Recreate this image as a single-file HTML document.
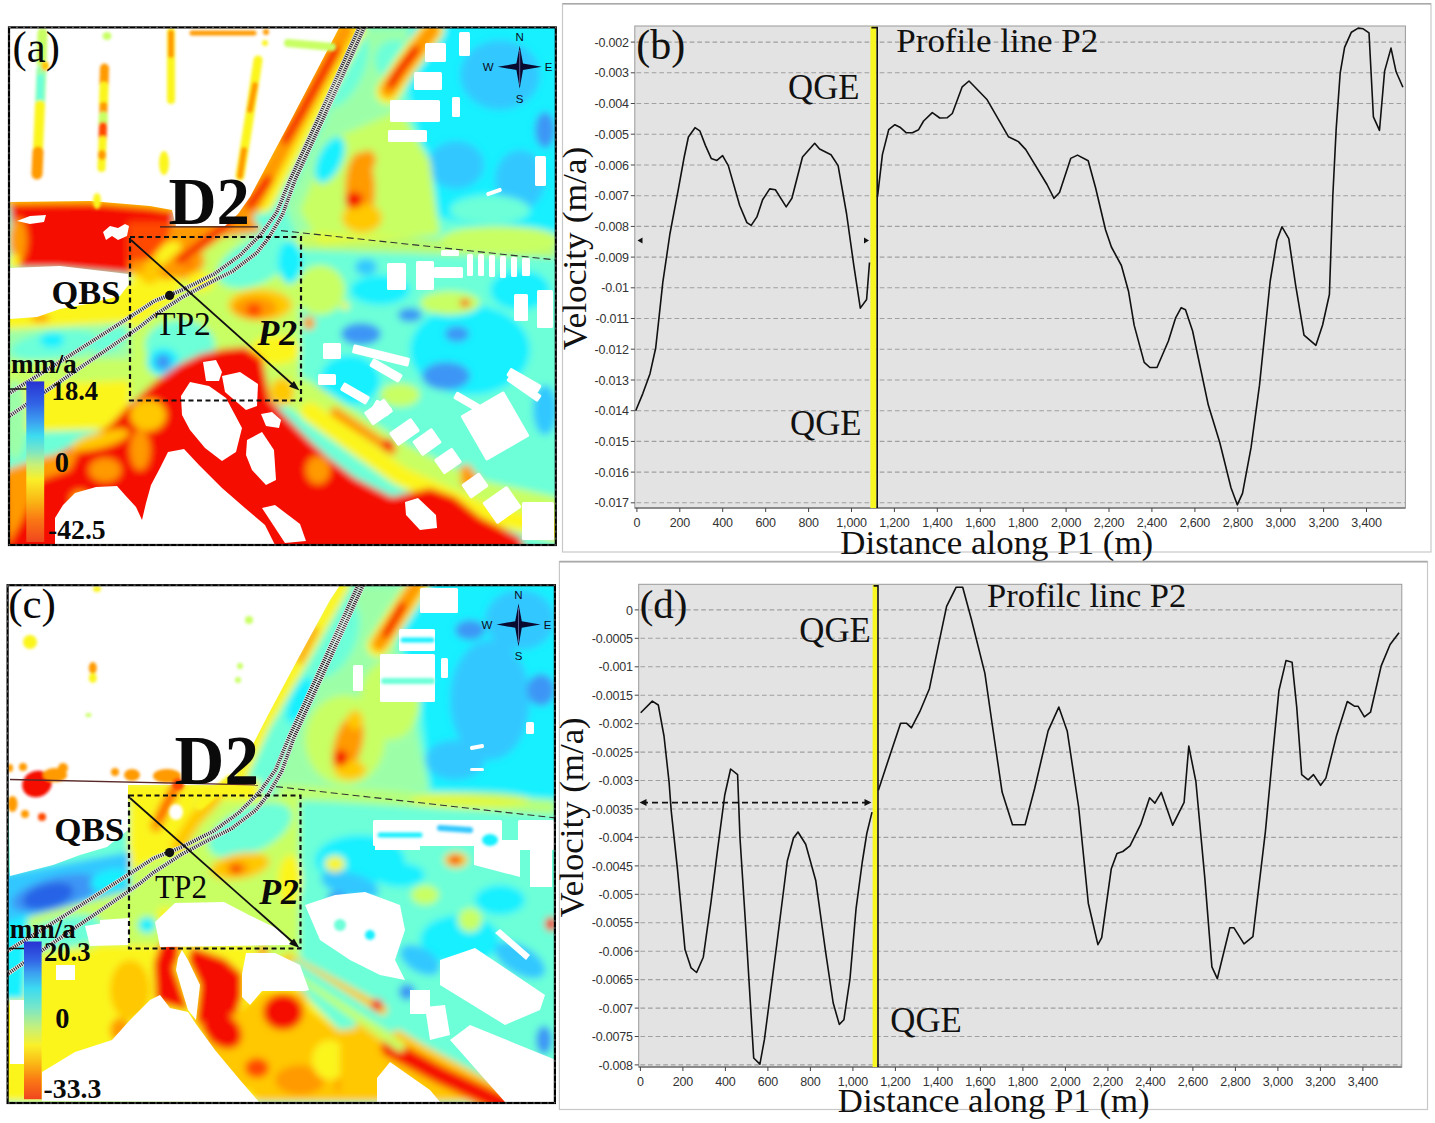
<!DOCTYPE html>
<html><head><meta charset="utf-8"><style>
html,body{margin:0;padding:0;background:#fff;width:1435px;height:1123px;overflow:hidden}
svg{display:block}
.tk{font-family:"Liberation Sans",sans-serif;font-size:12.5px;fill:#333;letter-spacing:-0.2px}
.serif{font-family:"Liberation Serif",serif;fill:#111}
.sb{font-family:"Liberation Serif",serif;font-weight:bold;fill:#0a0a0a}
.sr{font-family:"Liberation Serif",serif;fill:#0a0a0a}
.sbi{font-family:"Liberation Serif",serif;font-weight:bold;font-style:italic;fill:#0a0a0a}
.cmp{font-family:"Liberation Sans",sans-serif;fill:#0a0a20}
</style></head><body>
<svg width="1435" height="1123" viewBox="0 0 1435 1123">
<rect width="1435" height="1123" fill="#fff"/>
<clipPath id="clipa"><rect x="9.0" y="27.4" width="546.8" height="517.6"/></clipPath>
<filter id="bla" x="-5%" y="-5%" width="110%" height="110%"><feGaussianBlur stdDeviation="3.5"/></filter>
<filter id="bwa"><feGaussianBlur stdDeviation="0.6"/></filter>
<filter id="bsa"><feGaussianBlur stdDeviation="1.6"/></filter>
<g clip-path="url(#clipa)">
<g filter="url(#bla)"><rect x="0" y="20" width="560" height="540" fill="#6cffd8"/>
<path d="M0,20 L345,20 L250,215 L170,215 L0,205 Z" fill="#ffc800" opacity="1"/>
<path d="M415,20 L560,20 L560,235 L470,225 L430,215 L420,140 L400,60 Z" fill="#18f0ff" opacity="1"/>
<ellipse cx="456" cy="165" rx="28" ry="24" fill="#30c8ff" transform="rotate(0 456 165)" opacity="1"/>
<ellipse cx="500" cy="75" rx="40" ry="35" fill="#30c8ff" transform="rotate(0 500 75)" opacity="1"/>
<ellipse cx="545" cy="130" rx="10" ry="18" fill="#3c96f5" transform="rotate(0 545 130)" opacity="1"/>
<ellipse cx="520" cy="180" rx="25" ry="30" fill="#30c8ff" transform="rotate(0 520 180)" opacity="1"/>
<ellipse cx="490" cy="210" rx="40" ry="15" fill="#6cffd8" transform="rotate(0 490 210)" opacity="1"/>
<path d="M362,28 L410,28 L395,90 L420,150 L440,230 L300,245 L285,205 L330,110 Z" fill="#9cffa8" opacity="1"/>
<path d="M330,140 L400,110 L430,160 L440,235 L320,245 L300,210 Z" fill="#c8ff64" opacity="1"/>
<ellipse cx="345" cy="70" rx="18" ry="40" fill="#6cffd8" transform="rotate(25 345 70)" opacity="1"/>
<ellipse cx="330" cy="160" rx="12" ry="25" fill="#18f0ff" transform="rotate(25 330 160)" opacity="1"/>
<ellipse cx="395" cy="60" rx="20" ry="20" fill="#6cffd8" transform="rotate(0 395 60)" opacity="1"/>
<path d="M300,232 L556,245 L556,258 L300,250 Z" fill="#fbf51e" opacity="0.55"/>
<ellipse cx="500" cy="240" rx="60" ry="14" fill="#c8ff64" transform="rotate(0 500 240)" opacity="1"/>
<ellipse cx="360" cy="190" rx="15" ry="38" fill="#ff9a00" transform="rotate(0 360 190)" opacity="1"/>
<ellipse cx="362" cy="218" rx="20" ry="15" fill="#ffc800" transform="rotate(0 362 218)" opacity="1"/>
<ellipse cx="354" cy="200" rx="9" ry="8" fill="#f50a00" transform="rotate(0 354 200)" opacity="1"/>
<ellipse cx="368" cy="160" rx="8" ry="10" fill="#ff9a00" transform="rotate(0 368 160)" opacity="1"/>
<path d="M300,250 L556,258 L556,520 L300,420 Z" fill="#6cffd8" opacity="1"/>
<ellipse cx="470" cy="350" rx="60" ry="45" fill="#18f0ff" transform="rotate(0 470 350)" opacity="1"/>
<ellipse cx="380" cy="290" rx="30" ry="15" fill="#18f0ff" transform="rotate(0 380 290)" opacity="1"/>
<ellipse cx="520" cy="290" rx="30" ry="20" fill="#18f0ff" transform="rotate(0 520 290)" opacity="1"/>
<ellipse cx="350" cy="380" rx="30" ry="25" fill="#18f0ff" transform="rotate(0 350 380)" opacity="1"/>
<ellipse cx="366" cy="267" rx="11" ry="8" fill="#30c8ff" transform="rotate(0 366 267)" opacity="1"/>
<ellipse cx="361" cy="334" rx="20" ry="11" fill="#3c96f5" transform="rotate(0 361 334)" opacity="1"/>
<ellipse cx="410" cy="315" rx="12" ry="7" fill="#3c96f5" transform="rotate(0 410 315)" opacity="1"/>
<ellipse cx="457" cy="334" rx="12" ry="8" fill="#3c96f5" transform="rotate(0 457 334)" opacity="1"/>
<ellipse cx="446" cy="376" rx="24" ry="14" fill="#3c96f5" transform="rotate(0 446 376)" opacity="1"/>
<ellipse cx="320" cy="397" rx="7" ry="11" fill="#30c8ff" transform="rotate(0 320 397)" opacity="1"/>
<ellipse cx="450" cy="303" rx="30" ry="12" fill="#c8ff64" transform="rotate(0 450 303)" opacity="1"/>
<ellipse cx="320" cy="290" rx="25" ry="25" fill="#c8ff64" transform="rotate(0 320 290)" opacity="1"/>
<ellipse cx="345" cy="306" rx="4" ry="4" fill="#fbf51e" transform="rotate(0 345 306)" opacity="1"/>
<ellipse cx="465" cy="303" rx="5" ry="4" fill="#ff4a00" transform="rotate(0 465 303)" opacity="1"/>
<ellipse cx="309" cy="323" rx="6" ry="7" fill="#ff9a00" transform="rotate(0 309 323)" opacity="1"/>
<ellipse cx="400" cy="395" rx="20" ry="12" fill="#c8ff64" transform="rotate(0 400 395)" opacity="1"/>
<ellipse cx="520" cy="420" rx="30" ry="25" fill="#6cffd8" transform="rotate(0 520 420)" opacity="1"/>
<ellipse cx="545" cy="410" rx="12" ry="25" fill="#30c8ff" transform="rotate(0 545 410)" opacity="1"/>
<path d="M300,395 L400,460 L470,495 L560,515" fill="none" stroke="#c8ff64" stroke-width="34" stroke-linecap="round" stroke-linejoin="round" opacity="1"/>
<path d="M310,412 L400,476 L480,512 L560,532" fill="none" stroke="#fbf51e" stroke-width="20" stroke-linecap="round" stroke-linejoin="round" opacity="1"/>
<path d="M335,412 L362,430 L392,450" fill="none" stroke="#ff9a00" stroke-width="10" stroke-linecap="round" stroke-linejoin="round" opacity="1"/>
<ellipse cx="388" cy="445" rx="6" ry="6" fill="#f50a00" transform="rotate(0 388 445)" opacity="1"/>
<ellipse cx="466" cy="470" rx="7" ry="5" fill="#ff9a00" transform="rotate(0 466 470)" opacity="1"/>
<ellipse cx="470" cy="480" rx="10" ry="8" fill="#ff9a00" transform="rotate(0 470 480)" opacity="1"/>
<path d="M130,237 L300,237 L300,400 L130,400 Z" fill="#c8ff64" opacity="1"/>
<path d="M130,237 L200,237 L175,300 L130,330 Z" fill="#fbf51e" opacity="1"/>
<ellipse cx="255" cy="262" rx="40" ry="22" fill="#6cffd8" transform="rotate(-25 255 262)" opacity="1"/>
<ellipse cx="290" cy="262" rx="12" ry="22" fill="#18f0ff" transform="rotate(0 290 262)" opacity="1"/>
<ellipse cx="180" cy="345" rx="35" ry="25" fill="#6cffd8" transform="rotate(0 180 345)" opacity="1"/>
<ellipse cx="163" cy="362" rx="16" ry="14" fill="#18f0ff" transform="rotate(0 163 362)" opacity="1"/>
<ellipse cx="163" cy="362" rx="8" ry="8" fill="#3c96f5" transform="rotate(0 163 362)" opacity="1"/>
<ellipse cx="260" cy="305" rx="32" ry="16" fill="#ffc800" transform="rotate(0 260 305)" opacity="1"/>
<ellipse cx="255" cy="308" rx="22" ry="11" fill="#ff9a00" transform="rotate(0 255 308)" opacity="1"/>
<ellipse cx="254" cy="310" rx="8" ry="7" fill="#ff4a00" transform="rotate(0 254 310)" opacity="1"/>
<ellipse cx="188" cy="265" rx="18" ry="12" fill="#ff9a00" transform="rotate(-30 188 265)" opacity="1"/>
<ellipse cx="186" cy="262" rx="7" ry="6" fill="#ff4a00" transform="rotate(0 186 262)" opacity="1"/>
<ellipse cx="150" cy="270" rx="12" ry="14" fill="#ffc800" transform="rotate(0 150 270)" opacity="1"/>
<ellipse cx="275" cy="350" rx="25" ry="15" fill="#fbf51e" transform="rotate(0 275 350)" opacity="1"/>
<path d="M0,300 L130,282 L130,335 L60,332 L0,335 Z" fill="#fbf51e" opacity="1"/>
<path d="M0,330 L130,322 L130,365 L0,368 Z" fill="#9cffa8" opacity="1"/>
<ellipse cx="55" cy="345" rx="45" ry="14" fill="#6cffd8" transform="rotate(-8 55 345)" opacity="1"/>
<ellipse cx="52" cy="340" rx="12" ry="8" fill="#18f0ff" transform="rotate(0 52 340)" opacity="1"/>
<ellipse cx="110" cy="340" rx="20" ry="10" fill="#6cffd8" transform="rotate(-30 110 340)" opacity="1"/>
<path d="M0,362 L130,358 L130,390 L0,392 Z" fill="#c8ff64" opacity="1"/>
<path d="M25,385 L130,380 L130,430 L90,430 L25,432 Z" fill="#fbf51e" opacity="1"/>
<ellipse cx="15" cy="420" rx="12" ry="40" fill="#9cffa8" transform="rotate(0 15 420)" opacity="1"/>
<ellipse cx="40" cy="318" rx="10" ry="4" fill="#ff9a00" transform="rotate(0 40 318)" opacity="1"/>
<path d="M0,560 L0,475 L40,462 L85,440 L110,425 L129,405 L156,381 L178,365 L201,354 L223,349 L245,347 L262,358 L270,400 L295,426 L311,442 L330,459 L355,478 L392,497 L430,488 L455,497 L480,517 L520,537 L530,560 Z" fill="#f50a00" opacity="1"/>
<path d="M5,470 L40,458 L80,448 L70,470 L40,480 L22,520 L8,545 Z" fill="#ff9a00" opacity="1"/>
<ellipse cx="105" cy="470" rx="16" ry="12" fill="#ff9a00" transform="rotate(0 105 470)" opacity="1"/>
<ellipse cx="80" cy="500" rx="10" ry="10" fill="#ff9a00" transform="rotate(0 80 500)" opacity="1"/>
<ellipse cx="318" cy="470" rx="12" ry="14" fill="#ff9a00" transform="rotate(0 318 470)" opacity="1"/>
<ellipse cx="282" cy="392" rx="12" ry="14" fill="#ffc800" transform="rotate(0 282 392)" opacity="1"/>
<ellipse cx="100" cy="440" rx="30" ry="8" fill="#ffc800" transform="rotate(-15 100 440)" opacity="1"/>
<ellipse cx="148" cy="415" rx="18" ry="16" fill="#ffc800" transform="rotate(0 148 415)" opacity="1"/>
<ellipse cx="140" cy="450" rx="10" ry="20" fill="#ff9a00" transform="rotate(0 140 450)" opacity="1"/>
<path d="M10,204 L90,203 L150,208 L175,212 L170,235 L140,250 L130,274 L60,268 L15,268 Z" fill="#f50a00" opacity="1"/>
<ellipse cx="18" cy="240" rx="9" ry="22" fill="#ff9a00" transform="rotate(0 18 240)" opacity="1"/>
<ellipse cx="14" cy="262" rx="6" ry="8" fill="#fbf51e" transform="rotate(0 14 262)" opacity="1"/>
<ellipse cx="137" cy="264" rx="8" ry="10" fill="#ff9a00" transform="rotate(0 137 264)" opacity="1"/>
<path d="M128,222 L175,222 L250,214 L262,232 L200,240 L128,245 Z" fill="#ff9a00" opacity="1"/>
<path d="M128,222 L172,222 L168,240 L150,260 L128,262 Z" fill="#ff4a00" opacity="1"/>
<path d="M262,190 L235,218 L210,237 L185,256 L167,272" fill="none" stroke="#ff9a00" stroke-width="16" stroke-linecap="round" stroke-linejoin="round" opacity="1"/>
<path d="M250,205 L230,222 L205,241 L180,260" fill="none" stroke="#f50a00" stroke-width="8" stroke-linecap="round" stroke-linejoin="round" opacity="1"/>
<path d="M240,185 L225,205 L205,228 L185,245" fill="none" stroke="#ff9a00" stroke-width="10" stroke-linecap="round" stroke-linejoin="round" opacity="1"/>
<ellipse cx="200" cy="282" rx="14" ry="10" fill="#fbf51e" transform="rotate(0 200 282)" opacity="1"/>
<path d="M352,30 L304,120 L262,200" fill="none" stroke="#fbf51e" stroke-width="26" stroke-linecap="round" stroke-linejoin="round" opacity="1"/>
<path d="M346,30 L298,120 L256,200 L240,222" fill="none" stroke="#ff9a00" stroke-width="16" stroke-linecap="round" stroke-linejoin="round" opacity="1"/>
<path d="M336,50 L300,115 L285,140" fill="none" stroke="#f50a00" stroke-width="9" stroke-linecap="round" stroke-linejoin="round" opacity="1"/>
<path d="M268,180 L250,205" fill="none" stroke="#f50a00" stroke-width="9" stroke-linecap="round" stroke-linejoin="round" opacity="1"/>
<path d="M432,30 L405,66 L388,92" fill="none" stroke="#fbf51e" stroke-width="24" stroke-linecap="round" stroke-linejoin="round" opacity="1"/>
<path d="M432,30 L405,66 L388,90" fill="none" stroke="#ff9a00" stroke-width="16" stroke-linecap="round" stroke-linejoin="round" opacity="1"/>
<path d="M415,50 L398,72 L391,84" fill="none" stroke="#f50a00" stroke-width="9" stroke-linecap="round" stroke-linejoin="round" opacity="1"/></g>
<g filter="url(#bwa)"><path d="M10,28 L339,28 L291,120 L250,197 L238,214 L225,226 L176,226 L172,210 L150,206 L90,201 L10,202 Z" fill="#fff" opacity="1"/>
<path d="M10,268 L60,266 L128,274 L129,284 L120,296 L87,304 L60,309 L37,317 L10,319 Z" fill="#fff" opacity="1"/>
<path d="M103,232 L110,226 L118,228 L125,224 L129,226 L127,236 L118,240 L112,236 L106,240 Z" fill="#fff" opacity="1"/>
<path d="M17,221 L30,216 L46,215 L44,222 L30,224 Z" fill="#fff" opacity="1"/>
<path d="M55,518 L63,505 L75,493 L96,487 L117,486 L125,495 L136,507 L142,520 L146,503 L151,485 L160,468 L168,452 L184,449 L199,465 L222,488 L245,508 L265,525 L275,545 L55,545 Z" fill="#fff" opacity="1"/>
<path d="M181,396 L190,382 L209,386 L226,398 L242,428 L236,452 L222,461 L205,448 L190,430 L182,415 Z" fill="#fff" opacity="1"/>
<path d="M222,376 L240,372 L258,384 L257,406 L246,410 L225,392 Z" fill="#fff" opacity="1"/>
<path d="M247,440 L262,432 L274,450 L276,480 L266,485 L252,470 L246,455 Z" fill="#fff" opacity="1"/>
<path d="M261,414 L272,412 L281,420 L279,428 L266,426 Z" fill="#fff" opacity="1"/>
<path d="M262,508 L275,505 L300,524 L306,541 L285,543 Z" fill="#fff" opacity="1"/>
<path d="M203,362 L216,360 L222,372 L219,381 L206,381 Z" fill="#fff" opacity="1"/>
<path d="M405,502 L418,498 L436,515 L437,528 L420,530 L406,515 Z" fill="#fff" opacity="1"/>
<rect x="414" y="72" width="28" height="18" rx="1.5" fill="#fff" transform="rotate(0 428.0 81.0)"/>
<rect x="390" y="100" width="50" height="22" rx="1.5" fill="#fff" transform="rotate(0 415.0 111.0)"/>
<rect x="388" y="130" width="39" height="12" rx="1.5" fill="#fff" transform="rotate(0 407.5 136.0)"/>
<rect x="425" y="43" width="21" height="19" rx="1.5" fill="#fff" transform="rotate(0 435.5 52.5)"/>
<rect x="459" y="32" width="11" height="24" rx="1.5" fill="#fff" transform="rotate(0 464.5 44.0)"/>
<rect x="452" y="97" width="8" height="20" rx="1.5" fill="#fff" transform="rotate(0 456.0 107.0)"/>
<rect x="535" y="156" width="11" height="30" rx="1.5" fill="#fff" transform="rotate(0 540.5 171.0)"/>
<rect x="486" y="190" width="16" height="4" rx="1.5" fill="#fff" transform="rotate(-20 494.0 192.0)"/>
<rect x="387" y="263" width="19" height="27" rx="1.5" fill="#fff" transform="rotate(0 396.5 276.5)"/>
<rect x="416" y="261" width="18" height="29" rx="1.5" fill="#fff" transform="rotate(0 425.0 275.5)"/>
<rect x="434" y="267" width="29" height="11" rx="1.5" fill="#fff" transform="rotate(0 448.5 272.5)"/>
<rect x="441" y="250" width="18" height="6" rx="1.5" fill="#fff" transform="rotate(0 450.0 253.0)"/>
<rect x="467" y="254" width="6" height="22" rx="1.5" fill="#fff" transform="rotate(0 470.0 265.0)"/>
<rect x="478" y="254" width="6" height="22" rx="1.5" fill="#fff" transform="rotate(0 481.0 265.0)"/>
<rect x="489" y="255" width="6" height="22" rx="1.5" fill="#fff" transform="rotate(0 492.0 266.0)"/>
<rect x="500" y="256" width="6" height="22" rx="1.5" fill="#fff" transform="rotate(0 503.0 267.0)"/>
<rect x="511" y="257" width="6" height="20" rx="1.5" fill="#fff" transform="rotate(0 514.0 267.0)"/>
<rect x="522" y="258" width="8" height="18" rx="1.5" fill="#fff" transform="rotate(0 526.0 267.0)"/>
<rect x="514" y="294" width="14" height="27" rx="1.5" fill="#fff" transform="rotate(0 521.0 307.5)"/>
<rect x="537" y="290" width="16" height="38" rx="1.5" fill="#fff" transform="rotate(0 545.0 309.0)"/>
<rect x="323" y="343" width="18" height="16" rx="1.5" fill="#fff" transform="rotate(0 332.0 351.0)"/>
<rect x="352" y="351" width="58" height="9" rx="1.5" fill="#fff" transform="rotate(14 381.0 355.5)"/>
<rect x="369" y="366" width="34" height="9" rx="1.5" fill="#fff" transform="rotate(30 386.0 370.5)"/>
<rect x="318" y="374" width="18" height="11" rx="1.5" fill="#fff" transform="rotate(0 327.0 379.5)"/>
<rect x="340" y="389" width="30" height="9" rx="1.5" fill="#fff" transform="rotate(30 355.0 393.5)"/>
<rect x="373" y="403" width="18" height="10" rx="1.5" fill="#fff" transform="rotate(30 382.0 408.0)"/>
<rect x="505" y="384" width="38" height="8" rx="1.5" fill="#fff" transform="rotate(35 524.0 388.0)"/>
<rect x="452" y="402" width="45" height="8" rx="1.5" fill="#fff" transform="rotate(30 474.5 406.0)"/>
<rect x="366" y="404" width="25" height="16" rx="1.5" fill="#fff" transform="rotate(-35 378.5 412.0)"/>
<rect x="391" y="424" width="27" height="16" rx="1.5" fill="#fff" transform="rotate(-35 404.5 432.0)"/>
<rect x="415" y="433" width="24" height="18" rx="1.5" fill="#fff" transform="rotate(-35 427.0 442.0)"/>
<rect x="437" y="452" width="22" height="18" rx="1.5" fill="#fff" transform="rotate(-35 448.0 461.0)"/>
<rect x="464" y="477" width="22" height="17" rx="1.5" fill="#fff" transform="rotate(-35 475.0 485.5)"/>
<rect x="487" y="492" width="30" height="26" rx="1.5" fill="#fff" transform="rotate(-35 502.0 505.0)"/>
<rect x="522" y="502" width="32" height="38" rx="1.5" fill="#fff" transform="rotate(0 538.0 521.0)"/>
<rect x="470" y="400" width="50" height="52" rx="1.5" fill="#fff" transform="rotate(-30 495.0 426.0)"/>
<rect x="506" y="376" width="36" height="9" rx="1.5" fill="#fff" transform="rotate(30 524.0 380.5)"/></g>
<g filter="url(#bsa)"><path d="M42.5,33 L41.5,62" fill="none" stroke="#c8ff64" stroke-width="10" stroke-linecap="round" stroke-linejoin="round" opacity="1"/>
<path d="M41.5,70 L40,105" fill="none" stroke="#9cffa8" stroke-width="10" stroke-linecap="round" stroke-linejoin="round" opacity="1"/>
<path d="M40.5,78 L40,100" fill="none" stroke="#6cffd8" stroke-width="7" stroke-linecap="round" stroke-linejoin="round" opacity="1"/>
<path d="M40,105 L38,150" fill="none" stroke="#fbf51e" stroke-width="10" stroke-linecap="round" stroke-linejoin="round" opacity="1"/>
<path d="M38,152 L37,174" fill="none" stroke="#ff9a00" stroke-width="11" stroke-linecap="round" stroke-linejoin="round" opacity="1"/>
<ellipse cx="45" cy="66" rx="4" ry="5" fill="#ffc800" transform="rotate(0 45 66)" opacity="1"/>
<ellipse cx="107" cy="36" rx="4.5" ry="4" fill="#c8ff64" transform="rotate(0 107 36)" opacity="1"/>
<path d="M104.5,68 L104,84" fill="none" stroke="#ff9a00" stroke-width="9" stroke-linecap="round" stroke-linejoin="round" opacity="1"/>
<path d="M104,86 L103.5,104" fill="none" stroke="#fbf51e" stroke-width="9" stroke-linecap="round" stroke-linejoin="round" opacity="1"/>
<path d="M103.5,106 L103.3,114" fill="none" stroke="#ff9a00" stroke-width="8" stroke-linecap="round" stroke-linejoin="round" opacity="1"/>
<path d="M103.3,116 L103,124" fill="none" stroke="#c8ff64" stroke-width="9" stroke-linecap="round" stroke-linejoin="round" opacity="1"/>
<path d="M103,126 L102.6,138" fill="none" stroke="#ff4a00" stroke-width="8" stroke-linecap="round" stroke-linejoin="round" opacity="1"/>
<path d="M102.6,140 L101.5,168" fill="none" stroke="#fbf51e" stroke-width="8" stroke-linecap="round" stroke-linejoin="round" opacity="1"/>
<ellipse cx="102" cy="155" rx="4" ry="5" fill="#ff9a00" transform="rotate(0 102 155)" opacity="1"/>
<path d="M171,32 L171,100" fill="none" stroke="#fbf51e" stroke-width="8" stroke-linecap="round" stroke-linejoin="round" opacity="1"/>
<path d="M171,33 L171,55" fill="none" stroke="#ff9a00" stroke-width="6" stroke-linecap="round" stroke-linejoin="round" opacity="1"/>
<path d="M192,33 L254,33" fill="none" stroke="#ff9a00" stroke-width="5" stroke-linecap="round" stroke-linejoin="round" opacity="1"/>
<path d="M288,43 L332,47" fill="none" stroke="#c8ff64" stroke-width="8" stroke-linecap="round" stroke-linejoin="round" opacity="1"/>
<path d="M258,60 L249,120 L240,176" fill="none" stroke="#fbf51e" stroke-width="9" stroke-linecap="round" stroke-linejoin="round" opacity="1"/>
<path d="M255,85 L250,110" fill="none" stroke="#ff9a00" stroke-width="6" stroke-linecap="round" stroke-linejoin="round" opacity="1"/>
<path d="M244,150 L240,176" fill="none" stroke="#ff9a00" stroke-width="6" stroke-linecap="round" stroke-linejoin="round" opacity="1"/>
<ellipse cx="164" cy="163" rx="5" ry="12" fill="#fbf51e" transform="rotate(0 164 163)" opacity="1"/>
<ellipse cx="97" cy="201" rx="4" ry="8" fill="#fbf51e" transform="rotate(0 97 201)" opacity="1"/>
<ellipse cx="265" cy="43" rx="3" ry="3" fill="#fbf51e" transform="rotate(0 265 43)" opacity="1"/>
<ellipse cx="266" cy="32" rx="3" ry="3" fill="#ff9a00" transform="rotate(0 266 32)" opacity="1"/></g>
<defs><linearGradient id="cba" x1="0" y1="0" x2="0" y2="1"><stop offset="0" stop-color="#2832d2"/><stop offset="0.14" stop-color="#3264e6"/><stop offset="0.25" stop-color="#3ca0f0"/><stop offset="0.34" stop-color="#3cdcf0"/><stop offset="0.43" stop-color="#78e6c8"/><stop offset="0.52" stop-color="#c8f078"/><stop offset="0.61" stop-color="#faf028"/><stop offset="0.75" stop-color="#fab414"/><stop offset="0.86" stop-color="#fa7814"/><stop offset="1" stop-color="#f0461e"/></linearGradient></defs>
<path d="M359.0,28.0 L317.5,120.0 L290.0,180.0 L276.8,212.2 L261.1,234.2 L239.8,255.5 L214.1,274.1 L182.8,289.7 L154.3,301.1 L140.0,310.5 L67.3,357.2 L8.0,394.0" fill="none" stroke="#e6e6e6" stroke-width="4.5" stroke-linejoin="round"/><path d="M359.0,28.0 L317.5,120.0 L290.0,180.0 L276.8,212.2 L261.1,234.2 L239.8,255.5 L214.1,274.1 L182.8,289.7 L154.3,301.1 L140.0,310.5 L67.3,357.2 L8.0,394.0" fill="none" stroke="#222" stroke-width="3.6" stroke-dasharray="1.0,1.2" stroke-linejoin="round"/>
<path d="M364.0,28.0 L322.5,120.0 L295.0,180.0 L282.5,214.6 L268.3,238.4 L256.9,252.7 L232.6,271.2 L204.1,285.5 L182.8,296.9 L154.3,315.4 L140.0,326.8 L77.3,369.7 L8.0,417.0" fill="none" stroke="#e6e6e6" stroke-width="4.5" stroke-linejoin="round"/><path d="M364.0,28.0 L322.5,120.0 L295.0,180.0 L282.5,214.6 L268.3,238.4 L256.9,252.7 L232.6,271.2 L204.1,285.5 L182.8,296.9 L154.3,315.4 L140.0,326.8 L77.3,369.7 L8.0,417.0" fill="none" stroke="#222" stroke-width="3.6" stroke-dasharray="1.0,1.2" stroke-linejoin="round"/>
<line x1="160" y1="226.9" x2="258" y2="226.9" stroke="#3a2020" stroke-width="1.3"/>
<line x1="281" y1="230.6" x2="556" y2="260" stroke="#333" stroke-width="1.1" stroke-dasharray="7,4"/>
<rect x="130" y="237" width="171" height="163.5" fill="none" stroke="#111" stroke-width="2.2" stroke-dasharray="5,3.5"/>
<line x1="131" y1="240" x2="296" y2="387.5" stroke="#111" stroke-width="1.8"/>
<path d="M299.5,390.5 L289,386.5 L294,381 Z" fill="#111"/>
<circle cx="169.6" cy="295.4" r="4.6" fill="#111"/>
<text transform="translate(168.4,223.5) scale(0.98,1)" class="sb" font-size="68">D2</text>
<text x="51.5" y="304.4" class="sb" font-size="34.4">QBS</text>
<text transform="translate(154.9,335.2) scale(0.975,1)" class="sr" font-size="34.4">TP2</text>
<text x="257.4" y="345.2" class="sbi" font-size="35.8">P2</text>
<text x="10.9" y="373" class="sb" font-size="27">mm/a</text>
<text transform="translate(51.6,399.8) scale(0.95,1)" class="sb" font-size="28">18.4</text>
<text x="54.7" y="471.8" class="sb" font-size="28.4">0</text>
<text x="48" y="539.4" class="sb" font-size="27.7">-42.5</text>
<text transform="translate(12.6,62.3) scale(0.95,1)" class="sr" font-size="44.8">(a)</text>
<line x1="10" y1="389" x2="27" y2="389" stroke="#111" stroke-width="1.4"/>
<rect x="26.3" y="381.4" width="17.900000000000002" height="160.60000000000002" fill="url(#cba)"/>
<path d="M519.7,45.8 L523.0,63.5 L541.7,66.8 L523.0,70.1 L519.7,88.8 L516.4000000000001,70.1 L497.70000000000005,66.8 L516.4000000000001,63.5 Z" fill="#0a0a30"/>
<path d="M519.7,49.8 L519.7,84.8" stroke="#8080c0" stroke-width="0.7"/>
<text x="519.7" y="41.3" class="cmp" font-size="11.5" text-anchor="middle">N</text>
<text x="519.7" y="102.6" class="cmp" font-size="11.5" text-anchor="middle">S</text>
<text x="488.20000000000005" y="71.0" class="cmp" font-size="11.5" text-anchor="middle">W</text>
<text x="548.7" y="71.0" class="cmp" font-size="11.5" text-anchor="middle">E</text>
</g>
<rect x="9.0" y="27.4" width="546.8" height="517.6" fill="none" stroke="#000" stroke-width="2.2"/>
<rect x="9.0" y="27.4" width="546.8" height="517.6" fill="none" stroke="#fff" stroke-width="0.8" stroke-dasharray="2,5" opacity="0.5"/>
<clipPath id="clipc"><rect x="7.6" y="585.2" width="547.3" height="517.8"/></clipPath>
<filter id="blc" x="-5%" y="-5%" width="110%" height="110%"><feGaussianBlur stdDeviation="3.5"/></filter>
<filter id="bwc"><feGaussianBlur stdDeviation="0.6"/></filter>
<filter id="bsc"><feGaussianBlur stdDeviation="1.6"/></filter>
<g clip-path="url(#clipc)">
<g filter="url(#blc)"><rect x="0" y="575" width="560" height="540" fill="#6cffd8"/>
<path d="M410,580 L560,580 L560,800 L430,790 L420,700 L400,640 Z" fill="#18f0ff" opacity="1"/>
<ellipse cx="490" cy="700" rx="40" ry="60" fill="#30c8ff" transform="rotate(0 490 700)" opacity="1"/>
<ellipse cx="520" cy="620" rx="35" ry="30" fill="#30c8ff" transform="rotate(0 520 620)" opacity="1"/>
<ellipse cx="541" cy="690" rx="14" ry="16" fill="#3c96f5" transform="rotate(0 541 690)" opacity="1"/>
<ellipse cx="470" cy="630" rx="15" ry="10" fill="#3c96f5" transform="rotate(0 470 630)" opacity="1"/>
<ellipse cx="455" cy="760" rx="30" ry="20" fill="#30c8ff" transform="rotate(0 455 760)" opacity="1"/>
<path d="M360,585 L420,585 L395,640 L410,700 L430,790 L290,800 L270,790 L300,720 Z" fill="#9cffa8" opacity="1"/>
<ellipse cx="345" cy="740" rx="40" ry="45" fill="#c8ff64" transform="rotate(0 345 740)" opacity="1"/>
<ellipse cx="390" cy="700" rx="30" ry="40" fill="#c8ff64" transform="rotate(0 390 700)" opacity="1"/>
<ellipse cx="335" cy="640" rx="20" ry="40" fill="#6cffd8" transform="rotate(25 335 640)" opacity="1"/>
<ellipse cx="300" cy="700" rx="10" ry="25" fill="#18f0ff" transform="rotate(25 300 700)" opacity="1"/>
<ellipse cx="440" cy="610" rx="20" ry="15" fill="#18f0ff" transform="rotate(0 440 610)" opacity="1"/>
<path d="M280,785 L556,800 L556,815 L280,800 Z" fill="#c8ff64" opacity="0.8"/>
<ellipse cx="470" cy="800" rx="60" ry="8" fill="#fbf51e" transform="rotate(0 470 800)" opacity="0.6"/>
<ellipse cx="348" cy="745" rx="14" ry="32" fill="#ff9a00" transform="rotate(15 348 745)" opacity="1"/>
<ellipse cx="350" cy="770" rx="16" ry="10" fill="#ffc800" transform="rotate(0 350 770)" opacity="1"/>
<ellipse cx="341" cy="758" rx="7" ry="8" fill="#f50a00" transform="rotate(0 341 758)" opacity="1"/>
<ellipse cx="355" cy="720" rx="8" ry="10" fill="#ffc800" transform="rotate(0 355 720)" opacity="1"/>
<path d="M418,586 L395,620 L378,646" fill="none" stroke="#fbf51e" stroke-width="22" stroke-linecap="round" stroke-linejoin="round" opacity="1"/>
<path d="M416,586 L395,620 L379,644" fill="none" stroke="#ff9a00" stroke-width="15" stroke-linecap="round" stroke-linejoin="round" opacity="1"/>
<path d="M402,606 L386,634" fill="none" stroke="#f50a00" stroke-width="8" stroke-linecap="round" stroke-linejoin="round" opacity="1"/>
<path d="M342,585 L300,660 L262,725 L235,785" fill="none" stroke="#fbf51e" stroke-width="16" stroke-linecap="round" stroke-linejoin="round" opacity="1"/>
<path d="M315,630 L300,660" fill="none" stroke="#ff9a00" stroke-width="7" stroke-linecap="round" stroke-linejoin="round" opacity="1"/>
<path d="M300,800 L556,815 L556,1100 L440,1100 L300,960 Z" fill="#6cffd8" opacity="1"/>
<ellipse cx="360" cy="860" rx="45" ry="25" fill="#18f0ff" transform="rotate(0 360 860)" opacity="1"/>
<ellipse cx="350" cy="885" rx="30" ry="12" fill="#30c8ff" transform="rotate(15 350 885)" opacity="1"/>
<ellipse cx="337" cy="898" rx="10" ry="6" fill="#3c96f5" transform="rotate(0 337 898)" opacity="1"/>
<ellipse cx="400" cy="875" rx="25" ry="12" fill="#18f0ff" transform="rotate(0 400 875)" opacity="1"/>
<ellipse cx="460" cy="940" rx="40" ry="25" fill="#18f0ff" transform="rotate(0 460 940)" opacity="1"/>
<ellipse cx="420" cy="960" rx="22" ry="12" fill="#30c8ff" transform="rotate(30 420 960)" opacity="1"/>
<ellipse cx="407" cy="992" rx="8" ry="8" fill="#3c96f5" transform="rotate(0 407 992)" opacity="1"/>
<ellipse cx="520" cy="960" rx="28" ry="14" fill="#30c8ff" transform="rotate(30 520 960)" opacity="1"/>
<ellipse cx="500" cy="900" rx="25" ry="15" fill="#18f0ff" transform="rotate(0 500 900)" opacity="1"/>
<ellipse cx="544" cy="1040" rx="8" ry="14" fill="#3c96f5" transform="rotate(0 544 1040)" opacity="1"/>
<ellipse cx="425" cy="895" rx="14" ry="10" fill="#c8ff64" transform="rotate(0 425 895)" opacity="1"/>
<ellipse cx="335" cy="864" rx="10" ry="8" fill="#fbf51e" transform="rotate(0 335 864)" opacity="1"/>
<ellipse cx="456" cy="860" rx="12" ry="8" fill="#ffc800" transform="rotate(0 456 860)" opacity="1"/>
<ellipse cx="455" cy="860" rx="6" ry="4" fill="#f50a00" transform="rotate(0 455 860)" opacity="1"/>
<ellipse cx="551" cy="924" rx="6" ry="7" fill="#f50a00" transform="rotate(0 551 924)" opacity="1"/>
<ellipse cx="470" cy="920" rx="12" ry="12" fill="#c8ff64" transform="rotate(0 470 920)" opacity="1"/>
<path d="M128,796 L300,796 L300,948 L128,948 Z" fill="#c8ff64" opacity="1"/>
<path d="M128,796 L200,796 L180,850 L128,870 Z" fill="#fbf51e" opacity="1"/>
<path d="M120,780 L260,780 L260,800 L120,800 Z" fill="#fbf51e" opacity="1"/>
<ellipse cx="250" cy="830" rx="45" ry="22" fill="#6cffd8" transform="rotate(-25 250 830)" opacity="1"/>
<ellipse cx="240" cy="866" rx="30" ry="13" fill="#ffc800" transform="rotate(-10 240 866)" opacity="1"/>
<ellipse cx="237" cy="868" rx="12" ry="7" fill="#ff9a00" transform="rotate(0 237 868)" opacity="1"/>
<ellipse cx="236" cy="869" rx="5" ry="4" fill="#f50a00" transform="rotate(0 236 869)" opacity="1"/>
<path d="M178,784 L166,805 L156,826" fill="none" stroke="#ff9a00" stroke-width="12" stroke-linecap="round" stroke-linejoin="round" opacity="1"/>
<path d="M176,786 L160,818" fill="none" stroke="#ff4a00" stroke-width="6" stroke-linecap="round" stroke-linejoin="round" opacity="1"/>
<path d="M215,798 L195,820 L178,846" fill="none" stroke="#ffc800" stroke-width="14" stroke-linecap="round" stroke-linejoin="round" opacity="1"/>
<ellipse cx="290" cy="880" rx="12" ry="25" fill="#fbf51e" transform="rotate(0 290 880)" opacity="1"/>
<ellipse cx="147" cy="925" rx="9" ry="8" fill="#18f0ff" transform="rotate(0 147 925)" opacity="1"/>
<ellipse cx="165" cy="915" rx="8" ry="8" fill="#fbf51e" transform="rotate(0 165 915)" opacity="1"/>
<path d="M0,875 L130,852 L130,892 L0,930 Z" fill="#30c8ff" opacity="1"/>
<ellipse cx="55" cy="893" rx="45" ry="16" fill="#3c96f5" transform="rotate(-15 55 893)" opacity="1"/>
<ellipse cx="48" cy="896" rx="26" ry="12" fill="#2864e6" transform="rotate(-15 48 896)" opacity="1"/>
<ellipse cx="110" cy="880" rx="20" ry="10" fill="#18f0ff" transform="rotate(-15 110 880)" opacity="1"/>
<path d="M0,925 L130,890 L130,1000 L0,1000 Z" fill="#c8ff64" opacity="1"/>
<ellipse cx="60" cy="930" rx="40" ry="12" fill="#6cffd8" transform="rotate(-15 60 930)" opacity="1"/>
<ellipse cx="80" cy="975" rx="50" ry="25" fill="#fbf51e" transform="rotate(0 80 975)" opacity="1"/>
<ellipse cx="100" cy="990" rx="30" ry="20" fill="#ffc800" transform="rotate(0 100 990)" opacity="1"/>
<ellipse cx="40" cy="1050" rx="25" ry="20" fill="#ff9a00" transform="rotate(0 40 1050)" opacity="1"/>
<ellipse cx="120" cy="1020" rx="20" ry="20" fill="#ffc800" transform="rotate(0 120 1020)" opacity="1"/>
<ellipse cx="150" cy="960" rx="25" ry="15" fill="#fbf51e" transform="rotate(0 150 960)" opacity="1"/>
<path d="M0,1000 L100,945 L300,945 L300,990 L378,1070 L378,1102 L0,1102 Z" fill="#fbf51e" opacity="1"/>
<ellipse cx="200" cy="1070" rx="60" ry="30" fill="#ffc800" transform="rotate(0 200 1070)" opacity="1"/>
<path d="M100,945 L160,945 L160,1020 L120,1050 L100,1050 Z" fill="#fbf51e" opacity="1"/>
<ellipse cx="130" cy="990" rx="20" ry="30" fill="#ffc800" transform="rotate(0 130 990)" opacity="1"/>
<ellipse cx="120" cy="1030" rx="10" ry="12" fill="#ff9a00" transform="rotate(0 120 1030)" opacity="1"/>
<path d="M250,945 L300,945 L300,958 L260,958 Z" fill="#c8ff64" opacity="1"/>
<path d="M0,925 L28,915 L25,1000 L0,1000 Z" fill="#18f0ff" opacity="1"/>
<ellipse cx="70" cy="935" rx="40" ry="12" fill="#6cffd8" transform="rotate(-10 70 935)" opacity="1"/>
<path d="M154,963 L160,945 L167,938 L180,943 L178,960 L174,968 L184,997 L188,1010 L170,1006 L156,1001 Z" fill="#f50a00" opacity="1"/>
<path d="M188,960 L192,947 L225,959 L242,974 L242,997 L236,1014 L246,1047 L220,1045 L200,1030 L196,1020 L200,985 Z" fill="#f50a00" opacity="1"/>
<path d="M196,1024 L236,1014 L262,991 L305,991 L309,1010 L351,1039 L378,1072 L372,1102 L259,1102 Z" fill="#ffc800" opacity="1"/>
<ellipse cx="222" cy="1030" rx="22" ry="16" fill="#f50a00" transform="rotate(40 222 1030)" opacity="1"/>
<ellipse cx="283" cy="1012" rx="20" ry="18" fill="#f50a00" transform="rotate(0 283 1012)" opacity="1"/>
<ellipse cx="257" cy="1068" rx="12" ry="10" fill="#ff4a00" transform="rotate(0 257 1068)" opacity="1"/>
<ellipse cx="300" cy="1080" rx="25" ry="15" fill="#ff9a00" transform="rotate(0 300 1080)" opacity="1"/>
<ellipse cx="330" cy="1060" rx="18" ry="20" fill="#fbf51e" transform="rotate(0 330 1060)" opacity="1"/>
<ellipse cx="350" cy="1085" rx="15" ry="12" fill="#ff9a00" transform="rotate(0 350 1085)" opacity="1"/>
<ellipse cx="263" cy="951" rx="6" ry="5" fill="#ff9a00" transform="rotate(0 263 951)" opacity="1"/>
<path d="M340,1030 L380,1025 L420,1045 L500,1102 L340,1102 Z" fill="#ffc800" opacity="1"/>
<path d="M370,1030 L420,1060 L505,1105" fill="none" stroke="#ffc800" stroke-width="30" stroke-linecap="round" stroke-linejoin="round" opacity="1"/>
<path d="M390,1048 L440,1075 L505,1105" fill="none" stroke="#f50a00" stroke-width="18" stroke-linecap="round" stroke-linejoin="round" opacity="1"/>
<path d="M288,959 L382,1010" fill="none" stroke="#ffc800" stroke-width="11" stroke-linecap="round" stroke-linejoin="round" opacity="1"/>
<ellipse cx="377" cy="1005" rx="6" ry="6" fill="#f50a00" transform="rotate(0 377 1005)" opacity="1"/>
<path d="M299,974 L400,1047" fill="none" stroke="#c8ff64" stroke-width="10" stroke-linecap="round" stroke-linejoin="round" opacity="1"/>
<path d="M295,966 L392,1028" fill="none" stroke="#6cffd8" stroke-width="10" stroke-linecap="round" stroke-linejoin="round" opacity="1"/></g>
<g filter="url(#bwc)"><path d="M8,585 L340,585 L330,600 L300,655 L268,715 L245,760 L230,785 L200,785 L130,785 L8,785 Z" fill="#fff" opacity="1"/>
<path d="M8,785 L128,785 L128,830 L107,847 L80,855 L53,865 L10,876 Z" fill="#fff" opacity="1"/>
<path d="M155,922 L175,903 L224,902 L249,915 L280,930 L292,945 L160,947 Z" fill="#fff" opacity="1"/>
<path d="M85,926 L110,922 L128,924 L128,945 L90,946 Z" fill="#fff" opacity="1"/>
<path d="M100,920 L129,918 L129,940 L100,942 Z" fill="#fff" opacity="1"/>
<path d="M42,1101 L42,1072 L75,1052 L112,1040 L130,1020 L150,1000 L160,995 L170,1008 L188,1012 L196,1024 L215,1050 L240,1080 L259,1102 Z" fill="#fff" opacity="1"/>
<path d="M178,958 L182,950 L188,960 L200,985 L196,1020 L188,1010 L184,997 L176,970 Z" fill="#fff" opacity="1"/>
<path d="M246,953 L275,953 L300,965 L309,990 L305,991 L262,991 L250,1005 L242,997 L242,974 Z" fill="#fff" opacity="1"/>
<path d="M10,1000 L25,1000 L25,1064 L10,1064 Z" fill="#fff" opacity="1"/>
<path d="M56,965 L75,965 L75,980 L56,980 Z" fill="#fff" opacity="1"/>
<path d="M305,905 L335,895 L365,892 L400,905 L405,930 L395,960 L405,980 L380,975 L350,960 L320,940 Z" fill="#fff" opacity="1"/>
<path d="M440,960 L475,948 L545,995 L540,1010 L505,1025 L440,985 Z" fill="#fff" opacity="1"/>
<path d="M425,1007 L445,1005 L450,1035 L430,1040 Z" fill="#fff" opacity="1"/>
<path d="M450,1040 L470,1025 L556,1060 L556,1102 L505,1102 Z" fill="#fff" opacity="1"/>
<path d="M377,1078 L390,1062 L430,1090 L440,1102 L377,1102 Z" fill="#fff" opacity="1"/>
<path d="M375,840 L420,840 L420,850 L375,850 Z" fill="#fff" opacity="1"/>
<path d="M474,840 L520,840 L520,877 L474,865 Z" fill="#fff" opacity="1"/>
<path d="M530,840 L552,840 L552,887 L530,887 Z" fill="#fff" opacity="1"/>
<path d="M495,933 L500,929 L530,955 L526,960 Z" fill="#fff" opacity="1"/>
<path d="M410,990 L430,990 L430,1014 L410,1014 Z" fill="#fff" opacity="1"/>
<rect x="380" y="654" width="55" height="48" rx="1.5" fill="#fff" transform="rotate(0 407.5 678.0)"/>
<rect x="420" y="588" width="38" height="25" rx="1.5" fill="#fff" transform="rotate(0 439.0 600.5)"/>
<rect x="399" y="629" width="36" height="22" rx="1.5" fill="#fff" transform="rotate(0 417.0 640.0)"/>
<rect x="353" y="665" width="10" height="26" rx="1.5" fill="#fff" transform="rotate(0 358.0 678.0)"/>
<rect x="441" y="658" width="7" height="20" rx="1.5" fill="#fff" transform="rotate(0 444.5 668.0)"/>
<rect x="373" y="820" width="129" height="26" rx="1.5" fill="#fff" transform="rotate(0 437.5 833.0)"/>
<rect x="518" y="820" width="36" height="30" rx="1.5" fill="#fff" transform="rotate(0 536.0 835.0)"/>
<rect x="470" y="745" width="14" height="4" rx="1.5" fill="#fff" transform="rotate(-10 477.0 747.0)"/>
<rect x="470" y="768" width="14" height="3" rx="1.5" fill="#fff" transform="rotate(0 477.0 769.5)"/>
<rect x="526" y="722" width="8" height="12" rx="1.5" fill="#fff" transform="rotate(0 530.0 728.0)"/></g>
<g filter="url(#bsc)"><path d="M384,681 L432,681" fill="none" stroke="#6cffd8" stroke-width="6" stroke-linecap="round" stroke-linejoin="round" opacity="1"/>
<path d="M403,640 L432,640" fill="none" stroke="#18f0ff" stroke-width="5" stroke-linecap="round" stroke-linejoin="round" opacity="1"/>
<path d="M380,835 L420,835" fill="none" stroke="#18f0ff" stroke-width="5" stroke-linecap="round" stroke-linejoin="round" opacity="1"/>
<path d="M440,828 L470,830" fill="none" stroke="#30c8ff" stroke-width="6" stroke-linecap="round" stroke-linejoin="round" opacity="1"/>
<ellipse cx="490" cy="840" rx="8" ry="6" fill="#18f0ff" transform="rotate(0 490 840)" opacity="1"/>
<ellipse cx="340" cy="925" rx="6" ry="6" fill="#6cffd8" transform="rotate(0 340 925)" opacity="1"/>
<ellipse cx="370" cy="935" rx="5" ry="5" fill="#18f0ff" transform="rotate(0 370 935)" opacity="1"/>
<ellipse cx="30" cy="642" rx="7" ry="7" fill="#fbf51e" transform="rotate(0 30 642)" opacity="1"/>
<ellipse cx="97" cy="589" rx="4" ry="3" fill="#fbf51e" transform="rotate(0 97 589)" opacity="1"/>
<ellipse cx="92.8" cy="668" rx="4" ry="6" fill="#ff9a00" transform="rotate(0 92.8 668)" opacity="1"/>
<ellipse cx="92.8" cy="678" rx="4" ry="5" fill="#fbf51e" transform="rotate(0 92.8 678)" opacity="1"/>
<ellipse cx="249" cy="620" rx="4" ry="4" fill="#c8ff64" transform="rotate(0 249 620)" opacity="1"/>
<ellipse cx="240" cy="666" rx="3" ry="3" fill="#c8ff64" transform="rotate(0 240 666)" opacity="1"/>
<ellipse cx="238" cy="680" rx="3" ry="3" fill="#c8ff64" transform="rotate(0 238 680)" opacity="1"/>
<ellipse cx="88.5" cy="715" rx="3" ry="2" fill="#c8ff64" transform="rotate(0 88.5 715)" opacity="1"/>
<ellipse cx="37" cy="784" rx="15" ry="13" fill="#f50a00" transform="rotate(-20 37 784)" opacity="1"/>
<ellipse cx="55" cy="775" rx="12" ry="7" fill="#ff9a00" transform="rotate(0 55 775)" opacity="1"/>
<ellipse cx="23" cy="767" rx="4" ry="4" fill="#ff9a00" transform="rotate(0 23 767)" opacity="1"/>
<ellipse cx="10" cy="768" rx="3" ry="4" fill="#ff9a00" transform="rotate(0 10 768)" opacity="1"/>
<ellipse cx="63" cy="768" rx="5" ry="5" fill="#ff9a00" transform="rotate(0 63 768)" opacity="1"/>
<ellipse cx="115" cy="772" rx="4" ry="4" fill="#ff9a00" transform="rotate(0 115 772)" opacity="1"/>
<ellipse cx="132" cy="775" rx="8" ry="6" fill="#ff9a00" transform="rotate(0 132 775)" opacity="1"/>
<ellipse cx="167" cy="776" rx="14" ry="7" fill="#ff9a00" transform="rotate(0 167 776)" opacity="1"/>
<ellipse cx="178" cy="784" rx="6" ry="6" fill="#ff4a00" transform="rotate(0 178 784)" opacity="1"/>
<ellipse cx="12.5" cy="804" rx="5" ry="8" fill="#ff9a00" transform="rotate(0 12.5 804)" opacity="1"/>
<ellipse cx="25" cy="814" rx="4" ry="4" fill="#ff9a00" transform="rotate(0 25 814)" opacity="1"/>
<ellipse cx="42" cy="817" rx="4" ry="4" fill="#ff4a00" transform="rotate(0 42 817)" opacity="1"/>
<ellipse cx="176" cy="812" rx="7" ry="8" fill="#fff" transform="rotate(0 176 812)" opacity="1"/>
<path d="M230,780 L200,805" fill="none" stroke="#fbf51e" stroke-width="10" stroke-linecap="round" stroke-linejoin="round" opacity="1"/></g>
<defs><linearGradient id="cbc" x1="0" y1="0" x2="0" y2="1"><stop offset="0" stop-color="#2832d2"/><stop offset="0.12" stop-color="#3264e6"/><stop offset="0.2" stop-color="#3ca0f0"/><stop offset="0.3" stop-color="#3cdcf0"/><stop offset="0.42" stop-color="#78e6c8"/><stop offset="0.55" stop-color="#c8f078"/><stop offset="0.66" stop-color="#faf028"/><stop offset="0.78" stop-color="#fab414"/><stop offset="0.88" stop-color="#fa7814"/><stop offset="1" stop-color="#f0461e"/></linearGradient></defs>
<path d="M358.0,585.3 L316.5,677.3 L289.0,737.3 L275.8,769.5 L260.1,791.5 L238.8,812.8 L213.1,831.4 L181.8,847.0 L153.3,858.4 L139.0,867.8 L66.3,914.5 L7.0,951.3" fill="none" stroke="#e6e6e6" stroke-width="4.5" stroke-linejoin="round"/><path d="M358.0,585.3 L316.5,677.3 L289.0,737.3 L275.8,769.5 L260.1,791.5 L238.8,812.8 L213.1,831.4 L181.8,847.0 L153.3,858.4 L139.0,867.8 L66.3,914.5 L7.0,951.3" fill="none" stroke="#222" stroke-width="3.6" stroke-dasharray="1.0,1.2" stroke-linejoin="round"/>
<path d="M363.0,585.3 L321.5,677.3 L294.0,737.3 L281.5,771.9 L267.3,795.7 L255.9,810.0 L231.6,828.5 L203.1,842.8 L181.8,854.2 L153.3,872.7 L139.0,884.1 L76.3,927.0 L7.0,974.3" fill="none" stroke="#e6e6e6" stroke-width="4.5" stroke-linejoin="round"/><path d="M363.0,585.3 L321.5,677.3 L294.0,737.3 L281.5,771.9 L267.3,795.7 L255.9,810.0 L231.6,828.5 L203.1,842.8 L181.8,854.2 L153.3,872.7 L139.0,884.1 L76.3,927.0 L7.0,974.3" fill="none" stroke="#222" stroke-width="3.6" stroke-dasharray="1.0,1.2" stroke-linejoin="round"/>
<line x1="10" y1="779.5" x2="258" y2="785" stroke="#5a2a2a" stroke-width="1.3"/>
<line x1="276" y1="786.6" x2="556" y2="818" stroke="#333" stroke-width="1.1" stroke-dasharray="7,4"/>
<rect x="129" y="795.5" width="171.5" height="153" fill="none" stroke="#111" stroke-width="2.2" stroke-dasharray="5,3.5"/>
<line x1="130" y1="798" x2="296" y2="945" stroke="#111" stroke-width="1.8"/>
<path d="M299.5,948 L289,944 L294,938.5 Z" fill="#111"/>
<circle cx="169.6" cy="852.6" r="4.6" fill="#111"/>
<text transform="translate(174.6,783.5) scale(0.98,1)" class="sb" font-size="70.4">D2</text>
<text transform="translate(54.2,840.8) scale(1.06,1)" class="sb" font-size="33.1">QBS</text>
<text transform="translate(155,897.9) scale(0.94,1)" class="sr" font-size="33.2">TP2</text>
<text x="259.2" y="904.2" class="sbi" font-size="35.7">P2</text>
<text x="9.8" y="938.4" class="sb" font-size="27">mm/a</text>
<text transform="translate(44,961.4) scale(0.95,1)" class="sb" font-size="28">20.3</text>
<text x="55.2" y="1027.9" class="sb" font-size="28.4">0</text>
<text x="43.6" y="1098.4" class="sb" font-size="27.7">-33.3</text>
<text x="8.2" y="617.7" class="sr" font-size="43">(c)</text>
<line x1="9" y1="948.5" x2="24" y2="948.5" stroke="#111" stroke-width="1.3"/>
<rect x="24" y="941.5" width="17.6" height="157.70000000000005" fill="url(#cbc)"/>
<path d="M518.5,603.5 L521.8,621.2 L540.5,624.5 L521.8,627.8 L518.5,646.5 L515.2,627.8 L496.5,624.5 L515.2,621.2 Z" fill="#0a0a30"/>
<path d="M518.5,607.5 L518.5,642.5" stroke="#8080c0" stroke-width="0.7"/>
<text x="518.5" y="599.0" class="cmp" font-size="11.5" text-anchor="middle">N</text>
<text x="518.5" y="660.3" class="cmp" font-size="11.5" text-anchor="middle">S</text>
<text x="487.0" y="628.7" class="cmp" font-size="11.5" text-anchor="middle">W</text>
<text x="547.5" y="628.7" class="cmp" font-size="11.5" text-anchor="middle">E</text>
</g>
<rect x="7.6" y="585.2" width="547.3" height="517.8" fill="none" stroke="#000" stroke-width="2.2"/>
<rect x="7.6" y="585.2" width="547.3" height="517.8" fill="none" stroke="#fff" stroke-width="0.8" stroke-dasharray="2,5" opacity="0.5"/>
<rect x="562.5" y="3.8" width="868.5" height="548.2" fill="#fff" stroke="#c8c8c8" stroke-width="1.2"/>
<line x1="562.5" y1="3.8" x2="1431" y2="3.8" stroke="#a9a9a9" stroke-width="1.6"/>
<rect x="634.8" y="26" width="770.6000000000001" height="482" fill="#e3e3e3" stroke="#9a9a9a" stroke-width="1"/>
<line x1="634.8" y1="42.1" x2="1405.4" y2="42.1" stroke="#a0a0a0" stroke-width="1.1" stroke-dasharray="4.7,2.9" stroke-dashoffset="-1.7"/>
<line x1="630.8" y1="42.1" x2="634.8" y2="42.1" stroke="#444" stroke-width="1"/>
<text x="628.8" y="46.7" class="tk" text-anchor="end">-0.002</text>
<line x1="634.8" y1="72.8" x2="1405.4" y2="72.8" stroke="#a0a0a0" stroke-width="1.1" stroke-dasharray="4.7,2.9" stroke-dashoffset="-1.7"/>
<line x1="630.8" y1="72.8" x2="634.8" y2="72.8" stroke="#444" stroke-width="1"/>
<text x="628.8" y="77.4" class="tk" text-anchor="end">-0.003</text>
<line x1="634.8" y1="103.5" x2="1405.4" y2="103.5" stroke="#a0a0a0" stroke-width="1.1" stroke-dasharray="4.7,2.9" stroke-dashoffset="-1.7"/>
<line x1="630.8" y1="103.5" x2="634.8" y2="103.5" stroke="#444" stroke-width="1"/>
<text x="628.8" y="108.1" class="tk" text-anchor="end">-0.004</text>
<line x1="634.8" y1="134.2" x2="1405.4" y2="134.2" stroke="#a0a0a0" stroke-width="1.1" stroke-dasharray="4.7,2.9" stroke-dashoffset="-1.7"/>
<line x1="630.8" y1="134.2" x2="634.8" y2="134.2" stroke="#444" stroke-width="1"/>
<text x="628.8" y="138.8" class="tk" text-anchor="end">-0.005</text>
<line x1="634.8" y1="165.0" x2="1405.4" y2="165.0" stroke="#a0a0a0" stroke-width="1.1" stroke-dasharray="4.7,2.9" stroke-dashoffset="-1.7"/>
<line x1="630.8" y1="165.0" x2="634.8" y2="165.0" stroke="#444" stroke-width="1"/>
<text x="628.8" y="169.6" class="tk" text-anchor="end">-0.006</text>
<line x1="634.8" y1="195.7" x2="1405.4" y2="195.7" stroke="#a0a0a0" stroke-width="1.1" stroke-dasharray="4.7,2.9" stroke-dashoffset="-1.7"/>
<line x1="630.8" y1="195.7" x2="634.8" y2="195.7" stroke="#444" stroke-width="1"/>
<text x="628.8" y="200.3" class="tk" text-anchor="end">-0.007</text>
<line x1="634.8" y1="226.4" x2="1405.4" y2="226.4" stroke="#a0a0a0" stroke-width="1.1" stroke-dasharray="4.7,2.9" stroke-dashoffset="-1.7"/>
<line x1="630.8" y1="226.4" x2="634.8" y2="226.4" stroke="#444" stroke-width="1"/>
<text x="628.8" y="231.0" class="tk" text-anchor="end">-0.008</text>
<line x1="634.8" y1="257.1" x2="1405.4" y2="257.1" stroke="#a0a0a0" stroke-width="1.1" stroke-dasharray="4.7,2.9" stroke-dashoffset="-1.7"/>
<line x1="630.8" y1="257.1" x2="634.8" y2="257.1" stroke="#444" stroke-width="1"/>
<text x="628.8" y="261.7" class="tk" text-anchor="end">-0.009</text>
<line x1="634.8" y1="287.8" x2="1405.4" y2="287.8" stroke="#a0a0a0" stroke-width="1.1" stroke-dasharray="4.7,2.9" stroke-dashoffset="-1.7"/>
<line x1="630.8" y1="287.8" x2="634.8" y2="287.8" stroke="#444" stroke-width="1"/>
<text x="628.8" y="292.4" class="tk" text-anchor="end">-0.01</text>
<line x1="634.8" y1="318.5" x2="1405.4" y2="318.5" stroke="#a0a0a0" stroke-width="1.1" stroke-dasharray="4.7,2.9" stroke-dashoffset="-1.7"/>
<line x1="630.8" y1="318.5" x2="634.8" y2="318.5" stroke="#444" stroke-width="1"/>
<text x="628.8" y="323.1" class="tk" text-anchor="end">-0.011</text>
<line x1="634.8" y1="349.2" x2="1405.4" y2="349.2" stroke="#a0a0a0" stroke-width="1.1" stroke-dasharray="4.7,2.9" stroke-dashoffset="-1.7"/>
<line x1="630.8" y1="349.2" x2="634.8" y2="349.2" stroke="#444" stroke-width="1"/>
<text x="628.8" y="353.8" class="tk" text-anchor="end">-0.012</text>
<line x1="634.8" y1="380.0" x2="1405.4" y2="380.0" stroke="#a0a0a0" stroke-width="1.1" stroke-dasharray="4.7,2.9" stroke-dashoffset="-1.7"/>
<line x1="630.8" y1="380.0" x2="634.8" y2="380.0" stroke="#444" stroke-width="1"/>
<text x="628.8" y="384.6" class="tk" text-anchor="end">-0.013</text>
<line x1="634.8" y1="410.7" x2="1405.4" y2="410.7" stroke="#a0a0a0" stroke-width="1.1" stroke-dasharray="4.7,2.9" stroke-dashoffset="-1.7"/>
<line x1="630.8" y1="410.7" x2="634.8" y2="410.7" stroke="#444" stroke-width="1"/>
<text x="628.8" y="415.3" class="tk" text-anchor="end">-0.014</text>
<line x1="634.8" y1="441.4" x2="1405.4" y2="441.4" stroke="#a0a0a0" stroke-width="1.1" stroke-dasharray="4.7,2.9" stroke-dashoffset="-1.7"/>
<line x1="630.8" y1="441.4" x2="634.8" y2="441.4" stroke="#444" stroke-width="1"/>
<text x="628.8" y="446.0" class="tk" text-anchor="end">-0.015</text>
<line x1="634.8" y1="472.1" x2="1405.4" y2="472.1" stroke="#a0a0a0" stroke-width="1.1" stroke-dasharray="4.7,2.9" stroke-dashoffset="-1.7"/>
<line x1="630.8" y1="472.1" x2="634.8" y2="472.1" stroke="#444" stroke-width="1"/>
<text x="628.8" y="476.7" class="tk" text-anchor="end">-0.016</text>
<line x1="634.8" y1="502.8" x2="1405.4" y2="502.8" stroke="#a0a0a0" stroke-width="1.1" stroke-dasharray="4.7,2.9" stroke-dashoffset="-1.7"/>
<line x1="630.8" y1="502.8" x2="634.8" y2="502.8" stroke="#444" stroke-width="1"/>
<text x="628.8" y="507.4" class="tk" text-anchor="end">-0.017</text>
<line x1="634.8" y1="508" x2="1405.4" y2="508" stroke="#777" stroke-width="1.5"/>
<line x1="636.9" y1="508" x2="636.9" y2="512" stroke="#444" stroke-width="1"/>
<text x="636.9" y="527.0" class="tk" text-anchor="middle">0</text>
<line x1="679.8" y1="508" x2="679.8" y2="512" stroke="#444" stroke-width="1"/>
<text x="679.8" y="527.0" class="tk" text-anchor="middle">200</text>
<line x1="722.7" y1="508" x2="722.7" y2="512" stroke="#444" stroke-width="1"/>
<text x="722.7" y="527.0" class="tk" text-anchor="middle">400</text>
<line x1="765.7" y1="508" x2="765.7" y2="512" stroke="#444" stroke-width="1"/>
<text x="765.7" y="527.0" class="tk" text-anchor="middle">600</text>
<line x1="808.6" y1="508" x2="808.6" y2="512" stroke="#444" stroke-width="1"/>
<text x="808.6" y="527.0" class="tk" text-anchor="middle">800</text>
<line x1="851.5" y1="508" x2="851.5" y2="512" stroke="#444" stroke-width="1"/>
<text x="851.5" y="527.0" class="tk" text-anchor="middle">1,000</text>
<line x1="894.4" y1="508" x2="894.4" y2="512" stroke="#444" stroke-width="1"/>
<text x="894.4" y="527.0" class="tk" text-anchor="middle">1,200</text>
<line x1="937.3" y1="508" x2="937.3" y2="512" stroke="#444" stroke-width="1"/>
<text x="937.3" y="527.0" class="tk" text-anchor="middle">1,400</text>
<line x1="980.3" y1="508" x2="980.3" y2="512" stroke="#444" stroke-width="1"/>
<text x="980.3" y="527.0" class="tk" text-anchor="middle">1,600</text>
<line x1="1023.2" y1="508" x2="1023.2" y2="512" stroke="#444" stroke-width="1"/>
<text x="1023.2" y="527.0" class="tk" text-anchor="middle">1,800</text>
<line x1="1066.1" y1="508" x2="1066.1" y2="512" stroke="#444" stroke-width="1"/>
<text x="1066.1" y="527.0" class="tk" text-anchor="middle">2,000</text>
<line x1="1109.0" y1="508" x2="1109.0" y2="512" stroke="#444" stroke-width="1"/>
<text x="1109.0" y="527.0" class="tk" text-anchor="middle">2,200</text>
<line x1="1151.9" y1="508" x2="1151.9" y2="512" stroke="#444" stroke-width="1"/>
<text x="1151.9" y="527.0" class="tk" text-anchor="middle">2,400</text>
<line x1="1194.9" y1="508" x2="1194.9" y2="512" stroke="#444" stroke-width="1"/>
<text x="1194.9" y="527.0" class="tk" text-anchor="middle">2,600</text>
<line x1="1237.8" y1="508" x2="1237.8" y2="512" stroke="#444" stroke-width="1"/>
<text x="1237.8" y="527.0" class="tk" text-anchor="middle">2,800</text>
<line x1="1280.7" y1="508" x2="1280.7" y2="512" stroke="#444" stroke-width="1"/>
<text x="1280.7" y="527.0" class="tk" text-anchor="middle">3,000</text>
<line x1="1323.6" y1="508" x2="1323.6" y2="512" stroke="#444" stroke-width="1"/>
<text x="1323.6" y="527.0" class="tk" text-anchor="middle">3,200</text>
<line x1="1366.5" y1="508" x2="1366.5" y2="512" stroke="#444" stroke-width="1"/>
<text x="1366.5" y="527.0" class="tk" text-anchor="middle">3,400</text>
<rect x="870.4" y="26.5" width="6.0" height="481.5" fill="#f8f820"/>
<path d="M871.4,27.6 H877.1999999999999 V508" fill="none" stroke="#111" stroke-width="1.6"/>
<polyline points="635.7,410.7 642.8,393.6 650.0,373.7 655.7,348.0 658.5,322.3 662.8,282.4 669.9,234.0 678.5,188.4 684.2,157.0 688.4,137.0 695.0,127.7 699.8,130.8 705.5,145.6 711.2,158.4 716.9,160.4 722.6,155.6 728.3,165.6 739.7,205.5 746.9,222.6 751.2,225.4 756.9,216.9 762.6,199.8 769.7,188.9 775.4,189.8 786.2,206.9 791.9,198.3 802.5,157.0 814.7,143.3 819.6,149.0 831.0,154.7 838.1,165.6 846.6,214.0 853.8,265.3 860.3,308.1 866.6,299.5 869.5,262.5" fill="none" stroke="#111" stroke-width="1.6" stroke-linejoin="round"/>
<polyline points="877.5,197.0 882.4,154.6 888.7,129.7 894.9,124.7 899.9,127.2 906.1,132.7 912.4,132.7 918.6,129.7 923.6,121.0 932.3,112.7 939.8,118.0 947.3,117.7 952.3,113.5 962.2,86.8 969.0,81.0 972.2,84.3 987.2,99.8 1008.4,136.7 1018.4,141.6 1025.8,149.6 1047.0,184.5 1054.0,198.3 1059.5,192.5 1070.7,158.4 1077.5,155.1 1088.2,160.8 1095.7,188.3 1105.6,230.0 1111.4,247.0 1121.4,265.5 1128.5,291.2 1134.2,325.4 1144.2,362.4 1149.9,367.5 1157.0,367.5 1168.4,341.0 1175.5,318.2 1181.2,307.7 1185.5,309.7 1192.6,331.0 1208.3,405.1 1219.7,442.2 1231.0,487.7 1237.3,504.8 1242.5,493.4 1251.0,447.9 1259.5,385.2 1270.2,281.0 1276.9,240.4 1282.0,226.8 1288.8,238.7 1295.5,284.4 1304.0,335.1 1315.9,345.3 1322.6,325.0 1329.4,294.5 1332.8,196.3 1336.2,128.6 1340.2,72.8 1344.6,47.4 1351.4,32.2 1358.2,28.1 1363.2,28.8 1369.0,32.8 1373.4,116.8 1379.5,130.3 1384.6,71.1 1391.0,48.1 1396.1,71.8 1402.9,87.3" fill="none" stroke="#111" stroke-width="1.6" stroke-linejoin="round"/>
<text transform="translate(636.3,59.2)" class="serif" font-size="42">(b)</text>
<text transform="translate(788.1,98.6) scale(0.98,1)" class="serif" font-size="35.5">QGE</text>
<text transform="translate(790.1,435.2) scale(0.98,1)" class="serif" font-size="35.5">QGE</text>
<text transform="translate(896.3,52.1) scale(1.044,1)" class="serif" font-size="33.5">Profile line P2</text>
<text transform="translate(840.3,554.4) scale(1.026,1)" class="serif" font-size="34">Distance along P1 (m)</text>
<text transform="translate(586.3,350.2) rotate(-90) scale(1.027,1)" class="serif" font-size="34.5">Velocity (m/a)</text>
<path d="M637.5,240.5 l5,-3 v6 z" fill="#111"/>
<path d="M869,240.5 l-5,-3 v6 z" fill="#111"/>
<rect x="559.4" y="561.6" width="868.1" height="547.9" fill="#fff" stroke="#c8c8c8" stroke-width="1.2"/>
<line x1="559.4" y1="561.6" x2="1427.5" y2="561.6" stroke="#a9a9a9" stroke-width="1.6"/>
<rect x="638.7" y="584.3" width="763.0999999999999" height="482.70000000000005" fill="#e3e3e3" stroke="#9a9a9a" stroke-width="1"/>
<line x1="638.7" y1="609.9" x2="1401.8" y2="609.9" stroke="#a0a0a0" stroke-width="1.1" stroke-dasharray="4.7,2.9" stroke-dashoffset="-1.7"/>
<line x1="634.7" y1="609.9" x2="638.7" y2="609.9" stroke="#444" stroke-width="1"/>
<text x="632.7" y="614.5" class="tk" text-anchor="end">0</text>
<line x1="638.7" y1="638.3" x2="1401.8" y2="638.3" stroke="#a0a0a0" stroke-width="1.1" stroke-dasharray="4.7,2.9" stroke-dashoffset="-1.7"/>
<line x1="634.7" y1="638.3" x2="638.7" y2="638.3" stroke="#444" stroke-width="1"/>
<text x="632.7" y="642.9" class="tk" text-anchor="end">-0.0005</text>
<line x1="638.7" y1="666.8" x2="1401.8" y2="666.8" stroke="#a0a0a0" stroke-width="1.1" stroke-dasharray="4.7,2.9" stroke-dashoffset="-1.7"/>
<line x1="634.7" y1="666.8" x2="638.7" y2="666.8" stroke="#444" stroke-width="1"/>
<text x="632.7" y="671.4" class="tk" text-anchor="end">-0.001</text>
<line x1="638.7" y1="695.2" x2="1401.8" y2="695.2" stroke="#a0a0a0" stroke-width="1.1" stroke-dasharray="4.7,2.9" stroke-dashoffset="-1.7"/>
<line x1="634.7" y1="695.2" x2="638.7" y2="695.2" stroke="#444" stroke-width="1"/>
<text x="632.7" y="699.8" class="tk" text-anchor="end">-0.0015</text>
<line x1="638.7" y1="723.7" x2="1401.8" y2="723.7" stroke="#a0a0a0" stroke-width="1.1" stroke-dasharray="4.7,2.9" stroke-dashoffset="-1.7"/>
<line x1="634.7" y1="723.7" x2="638.7" y2="723.7" stroke="#444" stroke-width="1"/>
<text x="632.7" y="728.3" class="tk" text-anchor="end">-0.002</text>
<line x1="638.7" y1="752.1" x2="1401.8" y2="752.1" stroke="#a0a0a0" stroke-width="1.1" stroke-dasharray="4.7,2.9" stroke-dashoffset="-1.7"/>
<line x1="634.7" y1="752.1" x2="638.7" y2="752.1" stroke="#444" stroke-width="1"/>
<text x="632.7" y="756.7" class="tk" text-anchor="end">-0.0025</text>
<line x1="638.7" y1="780.5" x2="1401.8" y2="780.5" stroke="#a0a0a0" stroke-width="1.1" stroke-dasharray="4.7,2.9" stroke-dashoffset="-1.7"/>
<line x1="634.7" y1="780.5" x2="638.7" y2="780.5" stroke="#444" stroke-width="1"/>
<text x="632.7" y="785.1" class="tk" text-anchor="end">-0.003</text>
<line x1="638.7" y1="809.0" x2="1401.8" y2="809.0" stroke="#a0a0a0" stroke-width="1.1" stroke-dasharray="4.7,2.9" stroke-dashoffset="-1.7"/>
<line x1="634.7" y1="809.0" x2="638.7" y2="809.0" stroke="#444" stroke-width="1"/>
<text x="632.7" y="813.6" class="tk" text-anchor="end">-0.0035</text>
<line x1="638.7" y1="837.4" x2="1401.8" y2="837.4" stroke="#a0a0a0" stroke-width="1.1" stroke-dasharray="4.7,2.9" stroke-dashoffset="-1.7"/>
<line x1="634.7" y1="837.4" x2="638.7" y2="837.4" stroke="#444" stroke-width="1"/>
<text x="632.7" y="842.0" class="tk" text-anchor="end">-0.004</text>
<line x1="638.7" y1="865.9" x2="1401.8" y2="865.9" stroke="#a0a0a0" stroke-width="1.1" stroke-dasharray="4.7,2.9" stroke-dashoffset="-1.7"/>
<line x1="634.7" y1="865.9" x2="638.7" y2="865.9" stroke="#444" stroke-width="1"/>
<text x="632.7" y="870.5" class="tk" text-anchor="end">-0.0045</text>
<line x1="638.7" y1="894.3" x2="1401.8" y2="894.3" stroke="#a0a0a0" stroke-width="1.1" stroke-dasharray="4.7,2.9" stroke-dashoffset="-1.7"/>
<line x1="634.7" y1="894.3" x2="638.7" y2="894.3" stroke="#444" stroke-width="1"/>
<text x="632.7" y="898.9" class="tk" text-anchor="end">-0.005</text>
<line x1="638.7" y1="922.7" x2="1401.8" y2="922.7" stroke="#a0a0a0" stroke-width="1.1" stroke-dasharray="4.7,2.9" stroke-dashoffset="-1.7"/>
<line x1="634.7" y1="922.7" x2="638.7" y2="922.7" stroke="#444" stroke-width="1"/>
<text x="632.7" y="927.3" class="tk" text-anchor="end">-0.0055</text>
<line x1="638.7" y1="951.2" x2="1401.8" y2="951.2" stroke="#a0a0a0" stroke-width="1.1" stroke-dasharray="4.7,2.9" stroke-dashoffset="-1.7"/>
<line x1="634.7" y1="951.2" x2="638.7" y2="951.2" stroke="#444" stroke-width="1"/>
<text x="632.7" y="955.8" class="tk" text-anchor="end">-0.006</text>
<line x1="638.7" y1="979.6" x2="1401.8" y2="979.6" stroke="#a0a0a0" stroke-width="1.1" stroke-dasharray="4.7,2.9" stroke-dashoffset="-1.7"/>
<line x1="634.7" y1="979.6" x2="638.7" y2="979.6" stroke="#444" stroke-width="1"/>
<text x="632.7" y="984.2" class="tk" text-anchor="end">-0.0065</text>
<line x1="638.7" y1="1008.1" x2="1401.8" y2="1008.1" stroke="#a0a0a0" stroke-width="1.1" stroke-dasharray="4.7,2.9" stroke-dashoffset="-1.7"/>
<line x1="634.7" y1="1008.1" x2="638.7" y2="1008.1" stroke="#444" stroke-width="1"/>
<text x="632.7" y="1012.7" class="tk" text-anchor="end">-0.007</text>
<line x1="638.7" y1="1036.5" x2="1401.8" y2="1036.5" stroke="#a0a0a0" stroke-width="1.1" stroke-dasharray="4.7,2.9" stroke-dashoffset="-1.7"/>
<line x1="634.7" y1="1036.5" x2="638.7" y2="1036.5" stroke="#444" stroke-width="1"/>
<text x="632.7" y="1041.1" class="tk" text-anchor="end">-0.0075</text>
<line x1="638.7" y1="1064.9" x2="1401.8" y2="1064.9" stroke="#a0a0a0" stroke-width="1.1" stroke-dasharray="4.7,2.9" stroke-dashoffset="-1.7"/>
<line x1="634.7" y1="1064.9" x2="638.7" y2="1064.9" stroke="#444" stroke-width="1"/>
<text x="632.7" y="1069.5" class="tk" text-anchor="end">-0.008</text>
<line x1="638.7" y1="1067" x2="1401.8" y2="1067" stroke="#777" stroke-width="1.5"/>
<line x1="640.4" y1="1067" x2="640.4" y2="1071" stroke="#444" stroke-width="1"/>
<text x="640.4" y="1086.0" class="tk" text-anchor="middle">0</text>
<line x1="682.9" y1="1067" x2="682.9" y2="1071" stroke="#444" stroke-width="1"/>
<text x="682.9" y="1086.0" class="tk" text-anchor="middle">200</text>
<line x1="725.4" y1="1067" x2="725.4" y2="1071" stroke="#444" stroke-width="1"/>
<text x="725.4" y="1086.0" class="tk" text-anchor="middle">400</text>
<line x1="767.9" y1="1067" x2="767.9" y2="1071" stroke="#444" stroke-width="1"/>
<text x="767.9" y="1086.0" class="tk" text-anchor="middle">600</text>
<line x1="810.4" y1="1067" x2="810.4" y2="1071" stroke="#444" stroke-width="1"/>
<text x="810.4" y="1086.0" class="tk" text-anchor="middle">800</text>
<line x1="852.9" y1="1067" x2="852.9" y2="1071" stroke="#444" stroke-width="1"/>
<text x="852.9" y="1086.0" class="tk" text-anchor="middle">1,000</text>
<line x1="895.4" y1="1067" x2="895.4" y2="1071" stroke="#444" stroke-width="1"/>
<text x="895.4" y="1086.0" class="tk" text-anchor="middle">1,200</text>
<line x1="937.9" y1="1067" x2="937.9" y2="1071" stroke="#444" stroke-width="1"/>
<text x="937.9" y="1086.0" class="tk" text-anchor="middle">1,400</text>
<line x1="980.4" y1="1067" x2="980.4" y2="1071" stroke="#444" stroke-width="1"/>
<text x="980.4" y="1086.0" class="tk" text-anchor="middle">1,600</text>
<line x1="1022.9" y1="1067" x2="1022.9" y2="1071" stroke="#444" stroke-width="1"/>
<text x="1022.9" y="1086.0" class="tk" text-anchor="middle">1,800</text>
<line x1="1065.4" y1="1067" x2="1065.4" y2="1071" stroke="#444" stroke-width="1"/>
<text x="1065.4" y="1086.0" class="tk" text-anchor="middle">2,000</text>
<line x1="1107.9" y1="1067" x2="1107.9" y2="1071" stroke="#444" stroke-width="1"/>
<text x="1107.9" y="1086.0" class="tk" text-anchor="middle">2,200</text>
<line x1="1150.4" y1="1067" x2="1150.4" y2="1071" stroke="#444" stroke-width="1"/>
<text x="1150.4" y="1086.0" class="tk" text-anchor="middle">2,400</text>
<line x1="1192.9" y1="1067" x2="1192.9" y2="1071" stroke="#444" stroke-width="1"/>
<text x="1192.9" y="1086.0" class="tk" text-anchor="middle">2,600</text>
<line x1="1235.4" y1="1067" x2="1235.4" y2="1071" stroke="#444" stroke-width="1"/>
<text x="1235.4" y="1086.0" class="tk" text-anchor="middle">2,800</text>
<line x1="1277.9" y1="1067" x2="1277.9" y2="1071" stroke="#444" stroke-width="1"/>
<text x="1277.9" y="1086.0" class="tk" text-anchor="middle">3,000</text>
<line x1="1320.4" y1="1067" x2="1320.4" y2="1071" stroke="#444" stroke-width="1"/>
<text x="1320.4" y="1086.0" class="tk" text-anchor="middle">3,200</text>
<line x1="1362.9" y1="1067" x2="1362.9" y2="1071" stroke="#444" stroke-width="1"/>
<text x="1362.9" y="1086.0" class="tk" text-anchor="middle">3,400</text>
<rect x="872.6" y="584.8" width="4.600000000000023" height="482.20000000000005" fill="#f8f820"/>
<path d="M873.6,585.9 H878.0 V1067" fill="none" stroke="#111" stroke-width="1.6"/>
<polyline points="640.7,712.7 652.3,701.1 658.3,705.0 664.0,736.0 669.1,782.4 671.2,810.6 677.4,868.6 685.0,949.6 691.1,967.9 696.6,972.5 703.3,957.2 711.0,902.2 717.1,853.3 724.7,795.3 730.6,769.0 737.6,774.7 740.0,838.0 746.1,932.8 753.7,1058.0 759.9,1064.1 764.4,1039.7 776.7,945.0 787.3,861.0 793.5,838.0 798.0,832.0 805.7,844.2 815.8,880.8 825.5,951.1 833.2,1003.0 839.3,1024.4 843.9,1019.8 850.0,978.6 856.1,908.3 862.2,862.5 866.8,833.5 872.0,812.1" fill="none" stroke="#111" stroke-width="1.6" stroke-linejoin="round"/>
<polyline points="878.4,790.2 889.1,757.7 900.6,723.2 906.4,723.2 911.4,727.8 919.8,711.7 929.4,688.7 938.9,642.8 946.6,606.4 956.2,587.2 962.7,587.2 971.5,619.8 984.9,673.4 992.6,727.0 1002.1,792.1 1012.5,824.7 1025.1,824.7 1034.7,788.3 1048.1,730.9 1058.8,707.1 1067.2,730.9 1078.7,807.5 1088.3,903.2 1097.9,944.6 1101.7,937.7 1111.3,868.7 1117.0,853.4 1122.8,851.5 1130.0,845.8 1140.7,824.4 1149.6,797.7 1154.9,803.1 1161.3,792.4 1172.7,825.2 1184.1,802.4 1188.8,746.1 1195.9,781.7 1204.8,877.9 1211.9,966.9 1217.3,978.7 1229.8,927.8 1234.0,927.8 1244.0,943.8 1252.9,936.7 1265.4,831.6 1272.5,756.7 1278.9,690.8 1286.0,660.6 1292.1,662.3 1296.7,706.9 1301.7,774.6 1308.1,779.9 1313.5,774.6 1320.6,785.3 1325.9,778.1 1336.6,735.4 1347.3,701.5 1354.4,706.2 1358.0,706.2 1364.4,716.9 1370.5,712.2 1381.2,665.9 1390.1,644.5 1399.0,632.8" fill="none" stroke="#111" stroke-width="1.6" stroke-linejoin="round"/>
<text transform="translate(639.7,618.3)" class="serif" font-size="41">(d)</text>
<text transform="translate(799.3,641.9) scale(0.98,1)" class="serif" font-size="35.5">QGE</text>
<text transform="translate(890.3,1032.2) scale(0.98,1)" class="serif" font-size="35.5">QGE</text>
<text transform="translate(987,607.1) scale(1.045,1)" class="serif" font-size="33">Profilc linc P2</text>
<text transform="translate(837.8,1112.2) scale(1.038,1)" class="serif" font-size="33.5">Distance along P1 (m)</text>
<text transform="translate(582.8,917.5) rotate(-90) scale(1.025,1)" class="serif" font-size="34">Velocity (m/a)</text>
<line x1="642" y1="802.6" x2="868" y2="802.6" stroke="#111" stroke-width="1.6" stroke-dasharray="6,4"/>
<path d="M639.5,802.6 l7,-3.5 v7 z" fill="#111"/>
<path d="M871.5,802.6 l-7,-3.5 v7 z" fill="#111"/>
</svg>
</body></html>
